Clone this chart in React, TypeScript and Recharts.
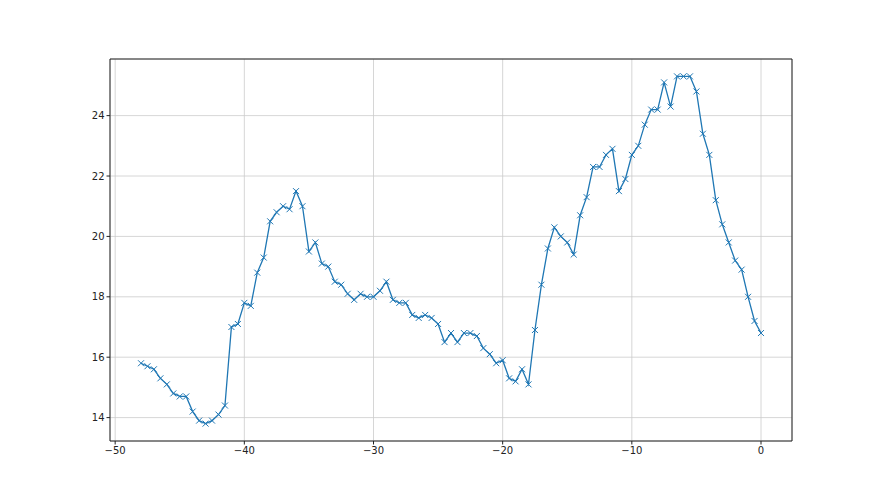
import { LineChart, Line, XAxis, YAxis, CartesianGrid, ReferenceLine } from 'recharts'

// sample position (minutes, relative to now)
const xs = [
  -48, -47.5, -47, -46.5, -46, -45.5, -45, -44.5, -44, -43.5, -43, -42.5, -42, -41.5,
  -41, -40.5, -40, -39.5, -39, -38.5, -38, -37.5, -37, -36.5, -36, -35.5, -35, -34.5,
  -34, -33.5, -33, -32.5, -32, -31.5, -31, -30.5, -30, -29.5, -29, -28.5, -28, -27.5,
  -27, -26.5, -26, -25.5, -25, -24.5, -24, -23.5, -23, -22.5, -22, -21.5, -21, -20.5,
  -20, -19.5, -19, -18.5, -18, -17.5, -17, -16.5, -16, -15.5, -15, -14.5, -14, -13.5,
  -13, -12.5, -12, -11.5, -11, -10.5, -10, -9.5, -9, -8.5, -8, -7.5, -7, -6.5,
  -6, -5.5, -5, -4.5, -4, -3.5, -3, -2.5, -2, -1.5, -1, -0.5, 0,
]

const values = [
  15.8, 15.7, 15.6, 15.3, 15.1, 14.8, 14.7, 14.7, 14.2, 13.9, 13.8, 13.9, 14.1, 14.4,
  17.0, 17.1, 17.8, 17.7, 18.8, 19.3, 20.5, 20.8, 21.0, 20.9, 21.5, 21.0, 19.5, 19.8,
  19.1, 19.0, 18.5, 18.4, 18.1, 17.9, 18.1, 18.0, 18.0, 18.2, 18.5, 17.9, 17.8, 17.8,
  17.4, 17.3, 17.4, 17.3, 17.1, 16.5, 16.8, 16.5, 16.8, 16.8, 16.7, 16.3, 16.1, 15.8,
  15.9, 15.3, 15.2, 15.6, 15.1, 16.9, 18.4, 19.6, 20.3, 20.0, 19.8, 19.4, 20.7, 21.3,
  22.3, 22.3, 22.7, 22.9, 21.5, 21.9, 22.7, 23.0, 23.7, 24.2, 24.2, 25.1, 24.3, 25.3,
  25.3, 25.3, 24.8, 23.4, 22.7, 21.2, 20.4, 19.8, 19.2, 18.9, 18.0, 17.2, 16.8,
]

const xTicks = [-50, -40, -30, -20, -10, 0]
const yTicks = [14, 16, 18, 20, 22, 24]

const X_DOMAIN: [number, number] = [-50.4, 2.4]
const Y_DOMAIN: [number, number] = [13.225, 25.875]

const data = xs.map((x, i) => ({ x, y: values[i] }))

const fmt = (v: number) => String(v).replace('-', '\u2212')

const tickStyle = { fontSize: 10, fill: '#222', fontFamily: 'DejaVu Sans' }

function Cross(props: any) {
  const { cx, cy } = props
  if (cx == null || cy == null) return null
  const r = 3
  return (
    <path
      key={`c-${cx}-${cy}`}
      d={`M${cx - r},${cy - r}L${cx + r},${cy + r}M${cx - r},${cy + r}L${cx + r},${cy - r}`}
      stroke="#1f77b4"
      strokeWidth={1}
      fill="none"
    />
  )
}

export default function App() {
  return (
    <div style={{ position: 'absolute', left: 0, top: 0, width: 880, height: 495, background: '#fff' }}>
      <LineChart
        width={880}
        height={495}
        data={data}
        margin={{ top: 59, right: 88, left: 70, bottom: 24 }}
      >
        <CartesianGrid stroke="#cccccc" strokeWidth={0.8} />
        <XAxis
          dataKey="x"
          type="number"
          domain={X_DOMAIN}
          ticks={xTicks}
          tickFormatter={fmt}
          height={30}
          stroke="#222"
          tickSize={3.5}
          tick={tickStyle}
          interval={0}
        />
        <YAxis
          type="number"
          domain={Y_DOMAIN}
          ticks={yTicks}
          tickFormatter={fmt}
          width={40}
          stroke="#222"
          tickSize={3.5}
          tick={tickStyle}
          interval={0}
        />
        {/* top and right spines */}
        <ReferenceLine y={Y_DOMAIN[1]} stroke="#222" strokeWidth={1} />
        <ReferenceLine x={X_DOMAIN[1]} stroke="#222" strokeWidth={1} />
        <Line
          type="linear"
          dataKey="y"
          stroke="#1f77b4"
          strokeWidth={1.3}
          dot={<Cross />}
          activeDot={false}
          isAnimationActive={false}
        />
      </LineChart>
    </div>
  )
}
